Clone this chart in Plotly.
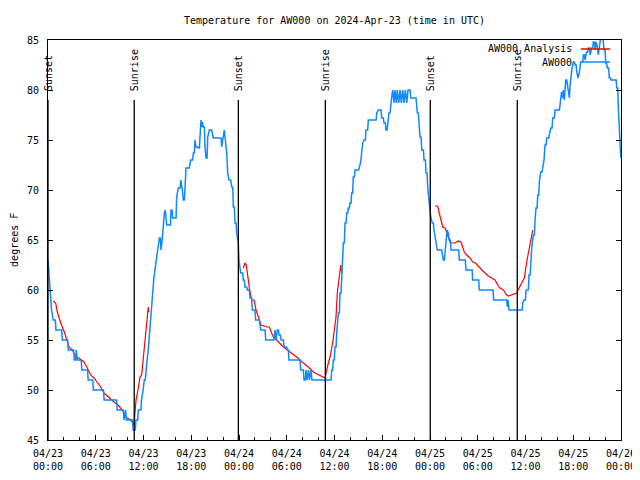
import pandas as pd
import plotly.graph_objects as go

BASE = pd.Timestamp("2024-04-23 00:00")

# Observations (AW000): hours since 2024-04-23 00:00 UTC, temperature in deg F
obs_hours = [
    0.00, 0.08, 0.20, 0.33, 0.45, 0.65, 1.00, 1.80, 2.55, 3.30, 3.55, 3.70, 4.25, 5.05, 5.70,
    7.05, 8.70, 9.55, 9.75, 9.85, 10.70, 11.05, 11.35, 11.75, 11.95, 12.10, 12.30, 12.45, 12.60,
    12.70, 12.78, 12.85, 12.93, 13.03, 13.16, 13.28, 13.44, 13.60, 13.76, 13.86, 13.99, 14.20,
    14.35, 14.49, 14.62, 14.74, 14.92, 15.24, 15.46, 15.67, 15.96, 16.17, 16.37, 16.68, 16.88,
    17.00, 17.22, 17.34, 17.76, 17.93, 18.26, 18.47, 18.60, 18.89, 19.10, 19.23, 19.31, 19.39,
    19.50, 19.73, 19.85, 20.07, 20.27, 20.57, 20.77, 21.61, 21.83, 22.00, 22.15, 22.33, 22.46,
    22.58, 22.74, 22.96, 23.08, 23.29, 23.50, 23.71, 23.91, 24.00, 24.13, 24.20, 24.54, 24.75,
    25.04, 25.38, 25.67, 26.09, 26.64, 26.73, 27.36, 28.40, 28.52, 28.65, 28.81, 29.03, 29.28,
    29.66, 30.07, 30.28, 31.54, 31.75, 32.17, 32.42, 32.55, 32.73, 32.86, 33.05, 33.17, 35.35,
    35.65, 35.85, 36.06, 36.28, 36.48, 36.69, 36.90, 36.98, 37.11, 37.32, 37.53, 37.74, 37.95,
    38.16, 38.36, 38.58, 39.12, 39.29, 39.42, 39.55, 39.71, 39.96, 40.25, 40.97, 41.31, 41.51,
    41.93, 42.22, 42.47, 42.69, 42.85, 43.06, 43.19, 43.31, 43.48, 43.60, 43.77, 43.89, 44.07,
    44.23, 44.40, 44.57, 44.73, 44.90, 45.08, 45.24, 45.58, 46.24, 46.41, 46.62, 46.75, 46.96,
    47.25, 47.50, 47.71, 47.91, 48.09, 48.29, 48.50, 48.63, 48.76, 48.92, 49.55, 49.67, 49.89,
    50.01, 50.14, 50.30, 50.43, 50.64, 51.68, 52.52, 53.37, 54.20, 56.00, 57.72, 57.80, 57.93,
    59.66, 59.81, 60.07, 60.44, 60.66, 60.78, 60.98, 61.20, 61.32, 61.54, 61.74, 61.91, 62.16,
    62.33, 62.45, 62.67, 62.99, 63.17, 63.42, 63.71, 64.34, 64.53, 64.68, 64.76, 64.88, 65.06,
    65.26, 65.39, 65.51, 65.60, 65.72, 65.85, 66.01, 66.23, 66.44, 66.60, 66.77, 66.94, 67.27,
    67.48, 67.67, 67.90, 68.12, 68.30, 68.52, 68.74, 68.86, 68.99, 69.15, 69.30, 69.49, 69.70,
    69.87, 70.08, 70.28, 70.53, 70.75, 71.47, 71.67, 71.79, 71.88, 71.97,
]
obs_temp = [
    63, 62, 60, 59, 58, 57, 56, 55, 54, 53, 54, 53, 52, 51, 50,
    49, 48, 47, 48, 47, 46, 47, 48, 49, 50, 51, 52, 53, 54,
    55, 56, 57, 58, 59, 60, 61, 62, 63, 64, 64.7, 65.2, 64,
    65, 66.7, 67.7, 68, 66.5, 66.5, 68, 67.2, 67.2, 69.3, 70.2, 71, 70,
    69, 71.3, 72.2, 72.2, 73, 73.7, 75, 74.3, 74.2, 75.3, 77, 76.3, 76.8,
    76.3, 74.3, 73.2, 75.3, 76, 76, 75.2, 75.2, 74.3, 75.2, 76, 74.7, 73.7,
    71.7, 71, 71, 70.3, 68.3, 66.7, 65.7, 64.7, 63, 62.3, 61.7, 61, 60.3,
    60, 59.2, 58, 57, 56.5, 56, 55, 55, 56, 55, 56, 55.5, 55,
    54.3, 54, 53, 53, 52, 51, 52, 51, 52, 51, 52, 51, 51,
    52, 53, 54.3, 55.7, 57.7, 59.7, 61, 63, 64.7, 66.7, 67.7, 68.2, 68.7,
    69.7, 71.3, 72, 72.2, 72.8, 73.8, 74.7, 75, 76, 77, 77, 77.7, 78,
    77.2, 76.7, 76, 76.7, 77.7, 78.7, 79.3, 80, 78.7, 80, 78.7, 80, 78.7,
    80, 78.7, 80, 78.7, 80, 78.7, 80, 79.2, 79.2, 77.7, 76.7, 75.3, 74,
    73, 71.7, 70.3, 68.7, 67.3, 66.7, 66, 65.3, 65, 64, 63.5, 63, 63.7,
    64.5, 66, 65.7, 65, 64, 63, 62, 61, 60, 59, 58.3, 59, 58,
    58.7, 59, 60, 61.5, 62.5, 64.2, 65.5, 67, 68.2, 69.5, 70.8, 71.8, 72.2,
    73, 74.5, 75.2, 75.5, 76.2, 77.2, 78, 78.8, 79.8, 79.2, 80, 79, 81,
    80.5, 80, 79.2, 80.5, 81.5, 82.2, 82.8, 82.5, 81.8, 81.2, 81.8, 82.8, 83.5,
    83, 83.8, 84.2, 83.5, 84.2, 84.8, 84, 84.8, 84.5, 83.5, 84.5, 85.5, 85.5,
    84, 82.7, 82.2, 81.2, 81, 80.2, 78.2, 75.8, 74.2, 73.2,
]

# Analysis (AW000 Analysis): None marks gaps
ana_hours = [
    0.67, 0.97, 1.17, 1.60, 2.10, 2.35, 2.64, 3.05, 3.48, 3.90, 4.52, 4.94, 5.37, 5.78, 6.20,
    6.62, 7.04, 7.67, 8.29, 8.80, 9.34, 9.76, 10.39, 10.81, 10.90, 11.06, 11.35, 11.56, 11.77,
    11.90, 12.06, 12.28, 12.48, 12.60, 12.65, None,
    24.54, 24.75, 24.92, 25.04, 25.30, 25.60, 25.89, 26.14, 26.55, 26.77, 27.48, 27.81, 28.31,
    28.74, 29.57, 30.41, 31.25, 32.08, 32.71, 33.34, 34.18, 34.81, 35.10, 35.44, 35.77, 35.98,
    36.19, 36.35, 36.57, 36.78, 36.91, None,
    48.63, 48.97, 49.13, 49.35, 49.60, 49.89, 50.10, 50.30, 50.51, 50.73, 51.14, 51.56, 51.90,
    52.06, 52.31, 52.61, 53.03, 53.37, 53.74, 54.16, 54.50, 54.91, 55.33, 55.76, 56.17, 56.51,
    56.80, 57.22, 57.64, 57.84, 58.18, 58.47, 58.90, 59.19, 59.53, 59.85, 60.15, 60.36, 60.57,
    60.78, 60.91,
]
ana_temp = [
    58.9, 58.7, 57.8, 56.7, 55.7, 55, 54.3, 54, 53.3, 53.2, 52.8, 52.2, 51.5, 51.2, 50.8,
    50.3, 49.7, 49.2, 48.8, 48.5, 48, 47.3, 47, 46.5, 47.7, 49, 50.2, 51.3, 51.5,
    52.7, 54.5, 55.7, 57.3, 58.3, 57.8, None,
    62.2, 62.7, 62.5, 61.6, 60.2, 59, 59, 58, 57, 56.5, 56.3, 56.3, 55.3,
    55, 54.3, 53.8, 53.3, 52.7, 52.3, 51.8, 51.5, 51.2, 52.3, 53.3, 54.7, 56.3,
    57.3, 59.7, 61, 62.5, 61.7, None,
    68.4, 68.4, 67.8, 67, 66.3, 66.2, 65.8, 65.3, 64.8, 64.7, 64.7, 64.9, 64.8,
    64.3, 63.8, 63.5, 63.2, 62.8, 62.7, 62.3, 62, 61.7, 61.4, 61.2, 61, 60.5,
    60.2, 60, 59.5, 59.4, 59.5, 59.6, 59.7, 60.2, 60.7, 61.2, 62.8, 63.7, 64.7,
    65.8, 66,
]

sun_labels = ["Sunset", "Sunrise", "Sunset", "Sunrise", "Sunset", "Sunrise"]
sun_times = ["2024-04-23 00:00", "2024-04-23 10:50", "2024-04-23 23:55",
             "2024-04-24 10:51", "2024-04-25 00:02", "2024-04-25 10:58"]

tick_times = ["2024-04-23 00:00", "2024-04-23 06:00", "2024-04-23 12:00", "2024-04-23 18:00",
              "2024-04-24 00:00", "2024-04-24 06:00", "2024-04-24 12:00", "2024-04-24 18:00",
              "2024-04-25 00:00", "2024-04-25 06:00", "2024-04-25 12:00", "2024-04-25 18:00",
              "2024-04-26 00:00"]
tick_labels = ["04/23<br>00:00", "04/23<br>06:00", "04/23<br>12:00", "04/23<br>18:00",
               "04/24<br>00:00", "04/24<br>06:00", "04/24<br>12:00", "04/24<br>18:00",
               "04/25<br>00:00", "04/25<br>06:00", "04/25<br>12:00", "04/25<br>18:00",
               "04/26<br>00:00"]
y_ticks = [45, 50, 55, 60, 65, 70, 75, 80, 85]

BLUE = "#0f88ff"
RED = "#ff0000"
FONT = "DejaVu Sans Mono"


def to_time(hours):
    return [None if h is None else BASE + pd.Timedelta(hours=h) for h in hours]


def hold_path(hours, temps, hold_gap=0.2, lead=0.08):
    """Readings held until the next change; short intervals drawn as joined samples."""
    xs, ys = [], []
    for i, (h, v) in enumerate(zip(hours, temps)):
        xs.append(h)
        ys.append(v)
        if i + 1 < len(hours) and hours[i + 1] - h > hold_gap:
            xs.append(hours[i + 1] - lead)
            ys.append(v)
    return xs, ys


obs_x, obs_y = hold_path(obs_hours, obs_temp)

fig = go.Figure()
fig.add_trace(go.Scatter(x=to_time(ana_hours), y=ana_temp, mode="lines",
                         line=dict(color=RED, width=1.2), connectgaps=False,
                         name="AW000 Analysis", showlegend=False))
fig.add_trace(go.Scatter(x=to_time(obs_x), y=obs_y, mode="lines",
                         line=dict(color=BLUE, width=1.5),
                         name="AW000", showlegend=False))

shapes = []
annotations = []
for lab, t in zip(sun_labels, sun_times):
    shapes.append(dict(type="line", xref="x", yref="y", x0=t, x1=t, y0=45, y1=79,
                       line=dict(color="black", width=1.3)))
    annotations.append(dict(x=t, y=79, xref="x", yref="y", text=lab, showarrow=False,
                            textangle=-90, xanchor="center", yanchor="bottom", yshift=7,
                            font=dict(family=FONT, size=10, color="black")))

# key (gnuplot style: text left of the sample line)
key_rows = [("AW000 Analysis", RED, 0.9775), ("AW000", BLUE, 0.945)]
for txt, col, yy in key_rows:
    annotations.append(dict(x=0.918, y=yy, xref="paper", yref="paper", text=txt,
                            showarrow=False, xanchor="right", yanchor="middle",
                            font=dict(family=FONT, size=10, color="black")))
    shapes.append(dict(type="line", xref="paper", yref="paper", x0=0.930, x1=0.981,
                       y0=yy, y1=yy, line=dict(color=col, width=1.5)))

annotations.append(dict(x=-0.0595, y=0.5, xref="paper", yref="paper", text="degrees F",
                        showarrow=False, textangle=-90, xanchor="center", yanchor="middle",
                        font=dict(family=FONT, size=10, color="black")))

# the page body has an 8px margin, so the figure is laid out 8px up/left of the target
fig.update_layout(
    width=640, height=480,
    margin=dict(l=40, r=27, t=32, b=48),
    paper_bgcolor="white", plot_bgcolor="white",
    font=dict(family=FONT, size=10, color="black"),
    title=dict(text="Temperature for AW000 on 2024-Apr-23 (time in UTC)",
               x=0.5, xref="paper", y=1 - 12 / 480, yanchor="middle",
               font=dict(family=FONT, size=10, color="black")),
    shapes=shapes, annotations=annotations, showlegend=False,
)
fig.update_xaxes(range=["2024-04-23 00:00", "2024-04-26 00:00"], type="date",
                 tickvals=tick_times, ticktext=tick_labels,
                 showline=True, mirror=True, linecolor="black", linewidth=1,
                 ticks="inside", ticklen=5, tickcolor="black", showgrid=False, zeroline=False,
                 ticklabelstandoff=4,
                 minor=dict(ticks="inside", ticklen=3, dtick=2 * 3600 * 1000,
                            tickcolor="black", showgrid=False),
                 tickfont=dict(family=FONT, size=10, color="black"))
fig.update_yaxes(range=[45, 85], tickvals=y_ticks,
                 showline=True, mirror="ticks", linecolor="black", linewidth=1,
                 ticks="inside", ticklen=5, tickcolor="black", showgrid=False, zeroline=False,
                 ticklabelstandoff=6,
                 tickfont=dict(family=FONT, size=10, color="black"))

fig.write_html("out.html", config={"displayModeBar": False})
